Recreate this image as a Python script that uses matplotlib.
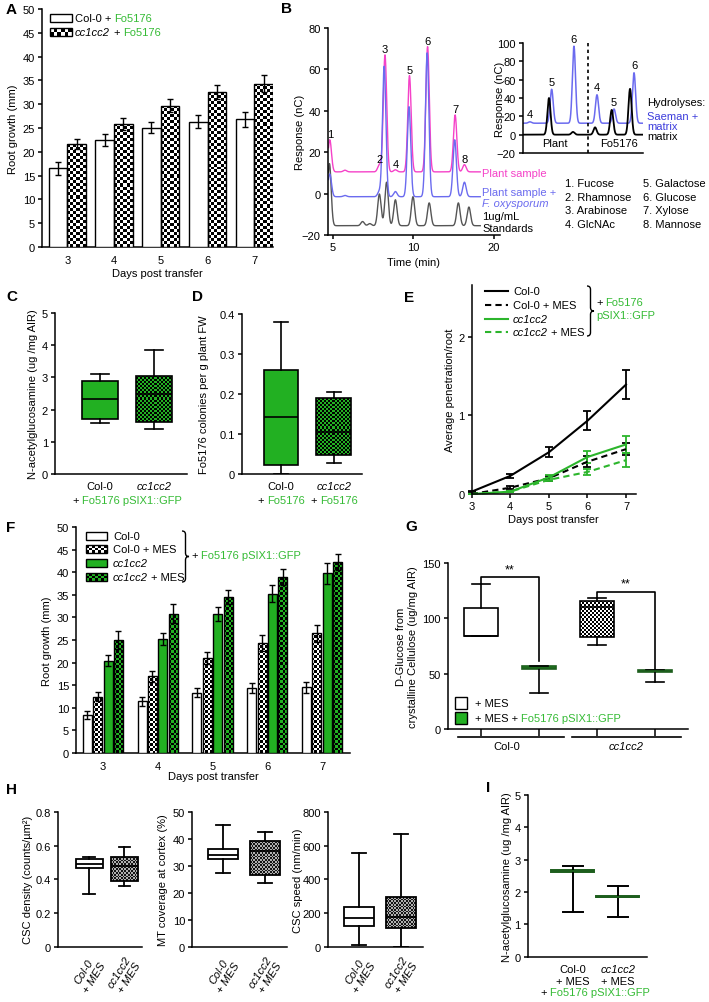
import numpy as np
import matplotlib
matplotlib.use('Agg')
import matplotlib.pyplot as plt
from matplotlib.patches import Rectangle, PathPatch
from matplotlib.path import Path
from matplotlib.lines import Line2D
from matplotlib.colors import ListedColormap
from matplotlib.transforms import Affine2D

plt.rcParams['font.family'] = ['Liberation Sans', 'DejaVu Sans']
plt.rcParams['font.size'] = 8
plt.rcParams['axes.linewidth'] = 1.1
plt.rcParams['xtick.major.width'] = 1.1
plt.rcParams['ytick.major.width'] = 1.1
plt.rcParams['xtick.major.size'] = 3
plt.rcParams['ytick.major.size'] = 3
plt.rcParams['xtick.major.pad'] = 2
plt.rcParams['ytick.major.pad'] = 2
plt.rcParams['axes.spines.top'] = False
plt.rcParams['axes.spines.right'] = False

W, H = 709, 1003
GREEN = '#22b022'
TGREEN = '#35bb35'
DKGREEN = '#1d5e1d'
PINK = '#f542c8'
BLUE = '#6b6bef'
TBLUE = '#3c3cdc'

# ---------------- data ----------------
days = [3, 4, 5, 6, 7]

# A: root growth (mm)
a_col0 = [16.5, 22.5, 25.1, 26.3, 26.8]
a_col0_err = [1.3, 1.3, 1.2, 1.4, 1.5]
a_cc = [21.6, 25.9, 29.7, 32.5, 34.3]
a_cc_err = [1.1, 1.3, 1.3, 1.5, 1.8]

# B: chromatograms, peak time (min) and height above baseline (nC)
b_pink_base = 10.5
b_pink_t = [4.8, 5.75, 7.9, 8.25, 8.9, 9.78, 11.8, 15.2, 16.35]
b_pink_h = [15.5, 0.8, 3.5, 56.5, 1.0, 46.5, 60.5, 27.5, 3.5]
b_pink_lab = ['1', '', '2', '3', '4', '5', '6', '7', '8']
b_blue_base = -1.5
b_blue_t = [4.8, 5.75, 7.9, 8.2, 8.9, 9.75, 11.75, 15.15, 16.35]
b_blue_h = [11, 0.6, 2.5, 63, 2.5, 43.5, 69.5, 27.5, 7]
b_std_base = -15.5
b_std_t = [4.78, 6.85, 7.3, 7.9, 8.35, 8.9, 10.0, 12.0, 15.6, 16.9]
b_std_h = [30, 2, 1, 15.3, 21, 12.5, 14, 11, 11, 9]
b_sugars = ['1. Fucose', '2. Rhamnose', '3. Arabinose', '4. GlcNAc',
            '5. Galactose', '6. Glucose', '7. Xylose', '8. Mannose']

# B inset: hydrolyses
bi_split = 5.39
bi_blue_base = 12.5
bi_blue_x = [0.6, 2.4, 4.25, 6.16, 7.57, 9.23]
bi_blue_h = [1.5, 37, 84, 31, 15.5, 55]
bi_blue_lab = ['4', '5', '6', '4', '5', '6']
bi_blk_x = [2.18, 4.17, 6.0, 7.38, 8.9]
bi_blk_h = [40, 3, 8, 27, 50]

# C: N-acetylglucosamine (ug/mg AIR)
c_med = [2.32, 2.47]
c_q1 = [1.70, 1.60]
c_q3 = [2.88, 3.05]
c_lo = [1.57, 1.40]
c_hi = [3.10, 3.85]

# D: Fo5176 colonies per g plant FW
d_med = [0.1425, 0.105]
d_q1 = [0.0225, 0.0475]
d_q3 = [0.26, 0.19]
d_lo = [0.0, 0.0275]
d_hi = [0.38, 0.205]

# E: average penetration / root
e_col0 = [0.03, 0.23, 0.53, 0.93, 1.39]
e_col0_err = [0.01, 0.03, 0.065, 0.12, 0.185]
e_col0_mes = [0.0, 0.08, 0.20, 0.41, 0.57]
e_col0_mes_err = [0.005, 0.02, 0.03, 0.07, 0.08]
e_cc = [0.0, 0.03, 0.21, 0.47, 0.63]
e_cc_err = [0.005, 0.01, 0.03, 0.08, 0.11]
e_cc_mes = [0.0, 0.03, 0.18, 0.28, 0.43]
e_cc_mes_err = [0.005, 0.01, 0.02, 0.04, 0.09]

# F: root growth (mm)
f_col0 = [8.4, 11.4, 13.3, 14.4, 14.5]
f_col0_err = [0.9, 0.9, 1.0, 1.1, 1.2]
f_col0_mes = [12.5, 17.0, 21.0, 24.3, 26.5]
f_col0_mes_err = [1.1, 1.2, 1.4, 1.7, 1.9]
f_cc = [20.4, 25.2, 30.8, 35.2, 39.8]
f_cc_err = [1.2, 1.3, 1.5, 1.9, 2.3]
f_cc_mes = [25.0, 30.8, 34.5, 38.9, 42.2]
f_cc_mes_err = [2.0, 2.1, 1.6, 1.7, 1.8]

# G: D-glucose from crystalline cellulose
g_med = [84.3, 55.5, 110, 52.5]
g_q1 = [84.3, 54.5, 82.8, 51.5]
g_q3 = [109.5, 56.5, 116, 53.5]
g_lo = [84.3, 32.5, 75.9, 42.7]
g_hi = [131, 57, 118.6, 53.5]
g_sig = [137, 124]

# H: CSC density, MT coverage, CSC speed
h1_med = [0.49, 0.48]
h1_q1 = [0.467, 0.392]
h1_q3 = [0.52, 0.535]
h1_lo = [0.314, 0.363]
h1_hi = [0.53, 0.592]
h2_med = [34.1, 35.6]
h2_q1 = [32.6, 26.6]
h2_q3 = [36.2, 39.3]
h2_lo = [27.4, 23.5]
h2_hi = [45.1, 42.4]
h3_med = [170, 180]
h3_q1 = [125, 115]
h3_q3 = [235, 295]
h3_lo = [10, 0]
h3_hi = [555, 670]
h_labels = ['Col-0\n+ MES', 'cc1cc2\n+ MES']

# I: N-acetylglucosamine with MES
i_med = [2.65, 1.86]
i_q1 = [2.62, 1.84]
i_q3 = [2.68, 1.88]
i_lo = [1.37, 1.24]
i_hi = [2.79, 2.20]

# ---------------- helpers ----------------
fig = plt.figure(figsize=(W / 100, H / 100), dpi=100)
pix = Affine2D().scale(1 / W, -1 / H).translate(0, 1) + fig.transFigure
R = fig.canvas.get_renderer()


def axes_px(x0, y0, x1, y1):
    ax = fig.add_axes([x0 / W, 1 - y1 / H, (x1 - x0) / W, (y1 - y0) / H])
    ax.px = (x0, y0, x1, y1)
    ax.tick_params(direction='out', labelsize=8)
    return ax


def ylab(ax, s, x):
    x0, y0, x1, y1 = ax.px
    ax.set_ylabel(s, va='center', ha='center')
    ax.yaxis.set_label_coords((x - x0) / (x1 - x0), 0.5)


def xlab(ax, s, y):
    x0, y0, x1, y1 = ax.px
    ax.set_xlabel(s, va='center')
    ax.xaxis.set_label_coords(0.5, (y1 - y) / (y1 - y0))


def txt(x, y, s, **kw):
    kw.setdefault('va', 'center')
    return fig.text(x, y, s, transform=pix, **kw)


def letter(s, x, y):
    txt(x, y, s, fontsize=11, fontweight='bold')


def tw(s, style):
    t = fig.text(0, 0, '|' + s + '|', style=style, fontsize=8)
    w1 = t.get_window_extent(R).width
    t.remove()
    t = fig.text(0, 0, '||', style=style, fontsize=8)
    w2 = t.get_window_extent(R).width
    t.remove()
    return w1 - w2


def rich(x, y, parts, ha='left'):
    # width of the visible part in its own style, trailing spaces in upright
    widths = []
    for s, c, st in parts:
        core = s.rstrip()
        widths.append(tw(core, st) + tw(' ' * (len(s) - len(core)), 'normal'))
    x0 = x - sum(widths) / 2 if ha == 'center' else x
    for (s, c, st), w in zip(parts, widths):
        txt(x0, y, s.rstrip(), color=c, style=st, ha='left')
        x0 += w


def checker(ax, patch, c1, c2, cell):
    ext = patch.get_path().get_extents(patch.get_patch_transform())
    win = patch.get_window_extent()
    nx = max(1, int(round(win.width / cell)))
    ny = max(1, int(round(win.height / cell)))
    grid = np.add.outer(np.arange(ny), np.arange(nx)) % 2
    im = ax.imshow(grid, cmap=ListedColormap([c1, c2]), vmin=0, vmax=1,
                   extent=(ext.x0, ext.x1, ext.y0, ext.y1),
                   transform=patch.get_data_transform(), interpolation='nearest',
                   aspect='auto', zorder=patch.get_zorder() - 0.01)
    im.set_clip_path(patch)


def key(ax, x, y, w, h, face, chk=None, cell=2.5):
    r = Rectangle((x, y), w, h, transform=pix, facecolor=face, edgecolor='k',
                  lw=1, clip_on=False, zorder=6)
    ax.add_patch(r)
    if chk:
        r.set_facecolor('none')
        checker(ax, r, chk[0], chk[1], cell)


def brace(x, y0, y1, w):
    ym = (y0 + y1) / 2
    h = w / 2
    v = [(x, y0), (x + h, y0), (x + h, y0 + h),
         (x + h, ym - h), (x + h, ym), (x + w, ym),
         (x + h, ym), (x + h, ym + h),
         (x + h, y1 - h), (x + h, y1), (x, y1)]
    c = [Path.MOVETO, Path.CURVE3, Path.CURVE3, Path.LINETO, Path.CURVE3, Path.CURVE3,
         Path.CURVE3, Path.CURVE3, Path.LINETO, Path.CURVE3, Path.CURVE3]
    fig.add_artist(PathPatch(Path(v, c), transform=pix, fill=False, lw=1.0, color='k'))


def boxes(ax, pos, med, q1, q3, lo, hi, width, capw, faces, edges=None, lw=1.2):
    stats = [dict(med=m, q1=a, q3=b, whislo=l, whishi=h)
             for m, a, b, l, h in zip(med, q1, q3, lo, hi)]
    r = ax.bxp(stats, positions=pos, widths=width, capwidths=capw, patch_artist=True,
               showfliers=False, manage_ticks=False,
               boxprops=dict(linewidth=lw, edgecolor='k'),
               medianprops=dict(color='k', linewidth=lw),
               whiskerprops=dict(color='k', linewidth=lw),
               capprops=dict(color='k', linewidth=lw))
    edges = edges or ['k'] * len(pos)
    for b, m, f, e in zip(r['boxes'], r['medians'], faces, edges):
        b.set_facecolor(f)
        b.set_edgecolor(e)
        m.set_color(e)
    return r


def peaks(u, base, pos_u, heights, s):
    y = np.full(u.shape, float(base))
    for p, h in zip(pos_u, heights):
        y += h * np.exp(-0.5 * ((u - p) / s) ** 2)
    return y


# ---------------- A ----------------
ax = axes_px(42, 10, 273, 248)
ax.set_xlim(2.46, 7.4)
ax.set_ylim(0, 50)
xa = np.array(days, dtype=float)
ax.bar(xa - 0.2, a_col0, 0.4, facecolor='white', edgecolor='k', lw=1, zorder=3)
bars = ax.bar(xa + 0.2, a_cc, 0.4, facecolor='none', edgecolor='k', lw=1, zorder=3)
ax.errorbar(xa - 0.2, a_col0, yerr=a_col0_err, fmt='none', ecolor='k', elinewidth=1, capsize=2, zorder=4)
ax.errorbar(xa + 0.2, a_cc, yerr=a_cc_err, fmt='none', ecolor='k', elinewidth=1, capsize=2, zorder=4)
ax.set_xticks(days)
ax.set_yticks(range(0, 51, 5))
ax.tick_params(axis='x', length=0, pad=6)
for p in bars:
    checker(ax, p, 'k', 'w', 3)
ylab(ax, 'Root growth (mm)', 13)
xlab(ax, 'Days post transfer', 274)
key(ax, 50, 15, 22, 8, 'white')
key(ax, 50, 29, 22, 8, 'none', chk=('k', 'w'), cell=3.5)
rich(75, 19, [('Col-0 + ', 'k', 'normal'), ('Fo5176', TGREEN, 'normal')])
rich(75, 33, [('cc1cc2 ', 'k', 'italic'), ('+ ', 'k', 'normal'), ('Fo5176', TGREEN, 'normal')])
letter('A', 6, 10)

# ---------------- B ----------------
def fwd(x):
    return np.interp(x, [0, 5, 10, 40], [-80, 0, 80, 323])


def inv(u):
    return np.interp(u, [-80, 0, 80, 323], [0, 5, 10, 40])


ax = axes_px(327.7, 29, 500, 236)
ax.set_xscale('function', functions=(fwd, inv))
ax.set_xlim(4.67, 20.74)
ax.set_ylim(-20, 80)
t = np.linspace(4.72, 18.3, 3000)
u = fwd(t)
ax.plot(t, peaks(u, b_std_base, fwd(np.array(b_std_t)), b_std_h, 1.7), color='#555555', lw=1)
pink = peaks(u, b_pink_base, fwd(np.array(b_pink_t)), b_pink_h, 1.7)
ax.plot(t, pink, color=PINK, lw=1)
ax.plot(t, peaks(u, b_blue_base, fwd(np.array(b_blue_t)), b_blue_h, 1.7), color=BLUE, lw=1)
for tp, h, lab in zip(b_pink_t, b_pink_h, b_pink_lab):
    if lab:
        ax.text(tp, b_pink_base + h + 0.5, lab, ha='center', va='bottom', fontsize=8)
ax.set_xticks([5, 10, 20])
ax.set_xticklabels(['5', '10', '20'])
ax.set_yticks(range(-20, 81, 20))
ylab(ax, 'Response (nC)', 300)
xlab(ax, 'Time (min)', 263)
txt(482, 174, 'Plant sample', color=PINK)
txt(482, 193, 'Plant sample +', color=BLUE)
txt(482, 204, 'F. oxysporum', color=BLUE, style='italic')
txt(482, 217, '1ug/mL')
txt(482, 229, 'Standards')
for i, s in enumerate(b_sugars):
    txt(565 + 78 * (i // 4), 184 + 13.7 * (i % 4), s)
letter('B', 281, 9)

# inset
ax = axes_px(522.7, 44, 643.3, 154)
ax.set_xlim(0, 10)
ax.set_ylim(-20, 100)
xi = np.linspace(0.0, 10, 1500)
ax.plot(xi, peaks(xi, bi_blue_base, bi_blue_x, bi_blue_h, 0.13), color=BLUE, lw=1.1)
ax.plot(xi, peaks(xi, 0, bi_blk_x, bi_blk_h, 0.13), color='k', lw=1.3)
for xp, h, lab in zip(bi_blue_x, bi_blue_h, bi_blue_lab):
    ax.text(xp, bi_blue_base + h + 8, lab, ha='center', va='center', fontsize=8)
ax.axvline(bi_split, color='k', ls=(0, (2, 2)), lw=1.2, clip_on=False)
ax.text(2.68, -9, 'Plant', ha='center', va='center')
ax.text(8.0, -9, 'Fo5176', ha='center', va='center')
ax.set_xticks([])
ax.set_yticks(range(-20, 101, 20))
ylab(ax, 'Response (nC)', 500)
txt(647, 103, 'Hydrolyses:')
txt(647, 117, 'Saeman +', color=TBLUE)
txt(647, 127, 'matrix', color=TBLUE)
txt(647, 137, 'matrix')

# ---------------- C ----------------
ax = axes_px(55, 314, 187, 475)
ax.set_xlim(0.167, 2.61)
ax.set_ylim(0, 5)
r = boxes(ax, [1, 2], c_med, c_q1, c_q3, c_lo, c_hi, 0.67, 0.33, [GREEN, 'none'])
ax.set_xticks([])
ax.set_yticks(range(6))
checker(ax, r['boxes'][1], GREEN, 'k', 2)
ylab(ax, 'N-acetylglucosamine (ug /mg AIR)', 33)
txt(100, 487, 'Col-0', ha='center')
txt(154, 487, 'cc1cc2', ha='center', style='italic')
rich(127, 501, [('+ ', 'k', 'normal'), ('Fo5176 pSIX1::GFP', TGREEN, 'normal')], ha='center')
letter('C', 6, 297)

# ---------------- D ----------------
ax = axes_px(242, 315, 362, 475)
ax.set_xlim(0.264, 2.53)
ax.set_ylim(0, 0.4)
r = boxes(ax, [1, 2], d_med, d_q1, d_q3, d_lo, d_hi, 0.66, 0.28, [GREEN, 'none'])
ax.set_xticks([])
ax.set_yticks([0, 0.1, 0.2, 0.3, 0.4])
ax.set_yticklabels(['0', '0.1', '0.2', '0.3', '0.4'])
checker(ax, r['boxes'][1], GREEN, 'k', 2)
ylab(ax, 'Fo5176 colonies per g plant FW', 204)
txt(281, 487, 'Col-0', ha='center')
txt(334, 487, 'cc1cc2', ha='center', style='italic')
rich(281, 501, [('+ ', 'k', 'normal'), ('Fo5176', TGREEN, 'normal')], ha='center')
rich(334, 501, [('+ ', 'k', 'normal'), ('Fo5176', TGREEN, 'normal')], ha='center')
letter('D', 192, 297)

# ---------------- E ----------------
ax = axes_px(471.7, 286, 636, 495)
ax.set_xlim(3, 7.26)
ax.set_ylim(0, 2.656)
EG = '#2cb52c'
series = [(e_col0, e_col0_err, 'k', '-'), (e_col0_mes, e_col0_mes_err, 'k', (0, (3, 2))),
          (e_cc, e_cc_err, EG, '-'), (e_cc_mes, e_cc_mes_err, EG, (0, (3, 2)))]
for vals, err, col, ls in series:
    ax.errorbar(days, vals, yerr=err, color=col, ls=ls, lw=1.5, elinewidth=1.3,
                capsize=3, capthick=1.3, clip_on=False)
ax.set_xticks(days)
ax.set_yticks([0, 1, 2])
ylab(ax, 'Average penetration/root', 450)
xlab(ax, 'Days post transfer', 520)
e_leg = [('k', '-', [('Col-0', 'k', 'normal')]),
         ('k', (0, (3, 2)), [('Col-0 + MES', 'k', 'normal')]),
         (EG, '-', [('cc1cc2', 'k', 'italic')]),
         (EG, (0, (3, 2)), [('cc1cc2 ', 'k', 'italic'), ('+ MES', 'k', 'normal')])]
for i, (col, ls, parts) in enumerate(e_leg):
    yy = [292, 306, 320, 333][i]
    fig.add_artist(Line2D([485, 508], [yy, yy], transform=pix, color=col, ls=ls, lw=1.5))
    rich(513, yy, parts)
brace(587, 287, 337, 7)
rich(596, 303, [('+ ', 'k', 'normal'), ('Fo5176', TGREEN, 'normal')])
txt(596, 316, 'pSIX1::GFP', color=TGREEN)
letter('E', 404, 298)

# ---------------- F ----------------
ax = axes_px(76, 528, 350, 754)
ax.set_xlim(2.51, 7.51)
ax.set_ylim(0, 50)
xf = np.array(days, dtype=float)
f_series = [(f_col0, f_col0_err, 'white', None), (f_col0_mes, f_col0_mes_err, 'none', ('k', 'w')),
            (f_cc, f_cc_err, GREEN, None), (f_cc_mes, f_cc_mes_err, 'none', (GREEN, 'k'))]
for j, (vals, err, face, chk) in enumerate(f_series):
    xx = xf + (j - 1.5) * 0.19
    bs = ax.bar(xx, vals, 0.165, facecolor=face, edgecolor='k', lw=1, zorder=3)
    ax.errorbar(xx, vals, yerr=err, fmt='none', ecolor='k', elinewidth=1, capsize=2, zorder=4)
    if chk:
        for p in bs:
            checker(ax, p, chk[0], chk[1], 2.5)
ax.set_xticks(days)
ax.set_yticks(range(0, 51, 5))
ax.tick_params(axis='x', length=0, pad=6)
ylab(ax, 'Root growth (mm)', 47)
xlab(ax, 'Days post transfer', 777)
f_leg = [('white', None, [('Col-0', 'k', 'normal')]),
         ('none', ('k', 'w'), [('Col-0 + MES', 'k', 'normal')]),
         (GREEN, None, [('cc1cc2', 'k', 'italic')]),
         ('none', (GREEN, 'k'), [('cc1cc2 ', 'k', 'italic'), ('+ MES', 'k', 'normal')])]
for i, (face, chk, parts) in enumerate(f_leg):
    yy = [537, 550, 564, 578][i]
    key(ax, 86, yy - 4, 21, 8, face, chk=chk, cell=3)
    rich(113, yy, parts)
brace(182, 532, 583, 7)
rich(191, 556, [('+ ', 'k', 'normal'), ('Fo5176 pSIX1::GFP', TGREEN, 'normal')])
letter('F', 6, 528)

# ---------------- G ----------------
ax = axes_px(448, 564, 688, 730)
ax.set_xlim(-0.569, 3.57)
ax.set_ylim(0, 150)
r = boxes(ax, [0, 1, 2, 3], g_med, g_q1, g_q3, g_lo, g_hi, 0.58, 0.3,
          ['white', GREEN, 'none', 'none'], edges=['k', DKGREEN, 'k', DKGREEN])
ax.set_xticks([0, 1, 2, 3])
ax.set_xticklabels([])
ax.tick_params(axis='x', length=5)
ax.set_yticks([0, 50, 100, 150])
checker(ax, r['boxes'][2], 'k', 'w', 2)
checker(ax, r['boxes'][3], DKGREEN, GREEN, 2)
for k, (a, b) in enumerate([(0, 1), (2, 3)]):
    ys = g_sig[k]
    ax.plot([a, a, b, b], [g_hi[a], ys, ys, g_hi[b] + (4.5 if k == 0 else 0.5)], color='k', lw=1.2)
    ax.text((a + b) / 2, ys + 2, '**', ha='center', va='bottom', fontsize=9)
ylab(ax, 'D-Glucose from\ncrystalline Cellulose (ug/mg AIR)', 407)
ax.yaxis.label.set_multialignment('center')
for x0, x1 in [(458, 564), (572, 681)]:
    fig.add_artist(Line2D([x0, x1], [738, 738], transform=pix, color='k', lw=1.2))
txt(507, 747, 'Col-0', ha='center')
txt(626, 747, 'cc1cc2', ha='center', style='italic')
key(ax, 455, 698, 12, 12, 'white')
key(ax, 455, 713, 12, 12, GREEN)
txt(475, 704, '+ MES')
rich(475, 719, [('+ MES + ', 'k', 'normal'), ('Fo5176 pSIX1::GFP', TGREEN, 'normal')])
letter('G', 405, 527)

# ---------------- H ----------------
h_panels = [((58, 812.7, 142, 948), (-0.886, 1.51), 0.77, (0, 0.8),
             [0, 0.2, 0.4, 0.6, 0.8], ['0', '0.2', '0.4', '0.6', '0.8'],
             (h1_med, h1_q1, h1_q3, h1_lo, h1_hi), 'CSC density (counts/µm²)', 28),
            ((192, 812.7, 287, 948), (-0.74, 1.52), 0.71, (0, 50),
             [0, 10, 20, 30, 40, 50], None,
             (h2_med, h2_q1, h2_q3, h2_lo, h2_hi), 'MT coverage at cortex (%)', 163),
            ((328, 812.7, 423, 948), (-0.74, 1.52), 0.71, (0, 800),
             [0, 200, 400, 600, 800], None,
             (h3_med, h3_q1, h3_q3, h3_lo, h3_hi), 'CSC speed (nm/min)', 298)]
for box, xl, wd, yl, yt, ytl, st, lab, lx in h_panels:
    ax = axes_px(*box)
    ax.set_xlim(*xl)
    ax.set_ylim(*yl)
    r = boxes(ax, [0, 1], *st, wd, 0.32, ['white', 'none'], lw=1.3)
    ax.set_yticks(yt)
    if ytl:
        ax.set_yticklabels(ytl)
    ax.set_xticks([0, 1])
    ax.set_xticklabels(h_labels, rotation=58, ha='right', rotation_mode='anchor',
                       style='italic', multialignment='center')
    ax.tick_params(axis='x', length=0, pad=5)
    checker(ax, r['boxes'][1], '#151515', '#b0b0b0', 1.7)
    ylab(ax, lab, lx)
letter('H', 6, 790)

# ---------------- I ----------------
ax = axes_px(527.7, 796, 646.7, 957.7)
ax.set_xlim(0, 2.64)
ax.set_ylim(0, 5)
r = boxes(ax, [1, 2], i_med, i_q1, i_q3, i_lo, i_hi, 0.95, 0.44, [GREEN, 'none'],
          edges=[DKGREEN, DKGREEN], lw=1.4)
ax.set_xticks([])
ax.set_yticks(range(6))
checker(ax, r['boxes'][1], '#103810', GREEN, 2)
ylab(ax, 'N-acetylglucosamine (ug /mg AIR)', 507)
txt(573, 970, 'Col-0', ha='center')
txt(573, 982, '+ MES', ha='center')
txt(618, 970, 'cc1cc2', ha='center', style='italic')
txt(618, 982, '+ MES', ha='center')
rich(595, 993, [('+ ', 'k', 'normal'), ('Fo5176 pSIX1::GFP', TGREEN, 'normal')], ha='center')
letter('I', 486, 788)

fig.savefig('out.png', dpi=100)
